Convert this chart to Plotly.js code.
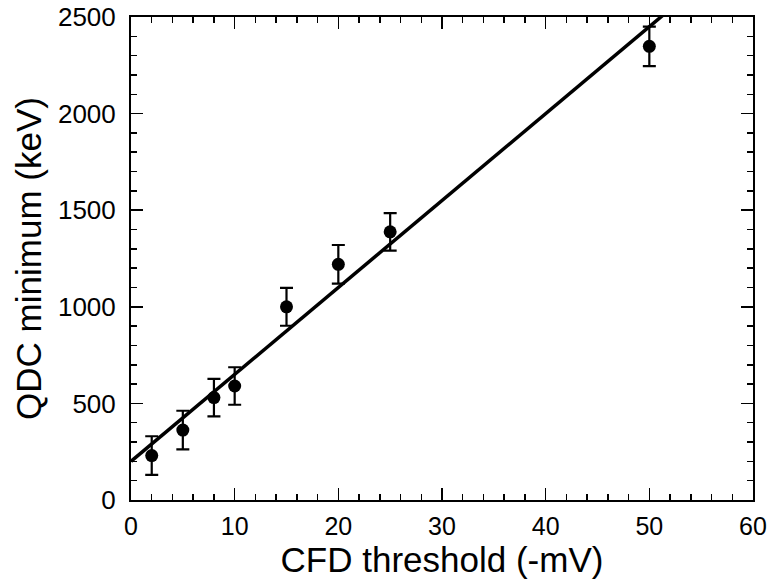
<!DOCTYPE html>
<html>
<head>
<meta charset="utf-8">
<script src="https://cdn.plot.ly/plotly-3.0.1.min.js"></script>
<style>html,body{margin:0;padding:0;background:#fff;}#chart{width:767px;height:587px;}</style>
</head>
<body>
<div id="chart"></div>
<script>
// Data
var thresholds = [2, 5, 8, 10, 15, 20, 25, 50];          // CFD threshold (-mV)
var qdcMin     = [230, 362, 530, 590, 1000, 1220, 1388, 2348]; // QDC minimum (keV)
var qdcErr     = [100, 100, 97, 97, 98, 100, 97, 102];
var fitX = [0, 60];
var fitY = [200, 2900];   // linear fit (intercept 200, slope 45 keV/mV)

var font = "'Liberation Sans', Arial, Helvetica, sans-serif";

var traces = [
  {
    x: fitX, y: fitY, mode: 'lines', type: 'scatter',
    line: {color: '#000', width: 3.5}, hoverinfo: 'skip', cliponaxis: true
  },
  {
    x: thresholds, y: qdcMin, mode: 'markers', type: 'scatter',
    marker: {color: '#000', size: 13},
    error_y: {type: 'data', array: qdcErr, visible: true, color: '#000', thickness: 2.2, width: 6.5}
  }
];

var axisCommon = {
  showgrid: false, zeroline: false,
  showline: true, linecolor: '#000', linewidth: 2, mirror: 'allticks',
  ticks: 'inside', ticklen: 12, tickwidth: 1.5, tickcolor: '#000'
};

var layout = {
  width: 767, height: 587,
  margin: {l: 131, r: 14, t: 17, b: 87},
  paper_bgcolor: '#fff', plot_bgcolor: '#fff',
  showlegend: false,
  xaxis: Object.assign({}, axisCommon, {
    range: [0, 60], tickvals: [0, 10, 20, 30, 40, 50, 60],
    tickfont: {family: font, size: 25, color: '#000'},
    minor: {dtick: 2, ticks: 'inside', ticklen: 6, tickwidth: 1.5, tickcolor: '#000', showgrid: false},
    ticklabelstandoff: 3,
    title: {text: 'CFD threshold (-mV)', font: {family: font, size: 35, color: '#000'}, standoff: 8}
  }),
  yaxis: Object.assign({}, axisCommon, {
    range: [0, 2500], tickvals: [0, 500, 1000, 1500, 2000, 2500],
    tickfont: {family: font, size: 26, color: '#000'},
    minor: {dtick: 100, ticks: 'inside', ticklen: 6, tickwidth: 1.5, tickcolor: '#000', showgrid: false},
    ticklabelstandoff: 8,
    title: {text: 'QDC minimum (keV)', font: {family: font, size: 35, color: '#000'}, standoff: 6}
  })
};

Plotly.newPlot('chart', traces, layout, {displayModeBar: false, staticPlot: true});
</script>
</body>
</html>
